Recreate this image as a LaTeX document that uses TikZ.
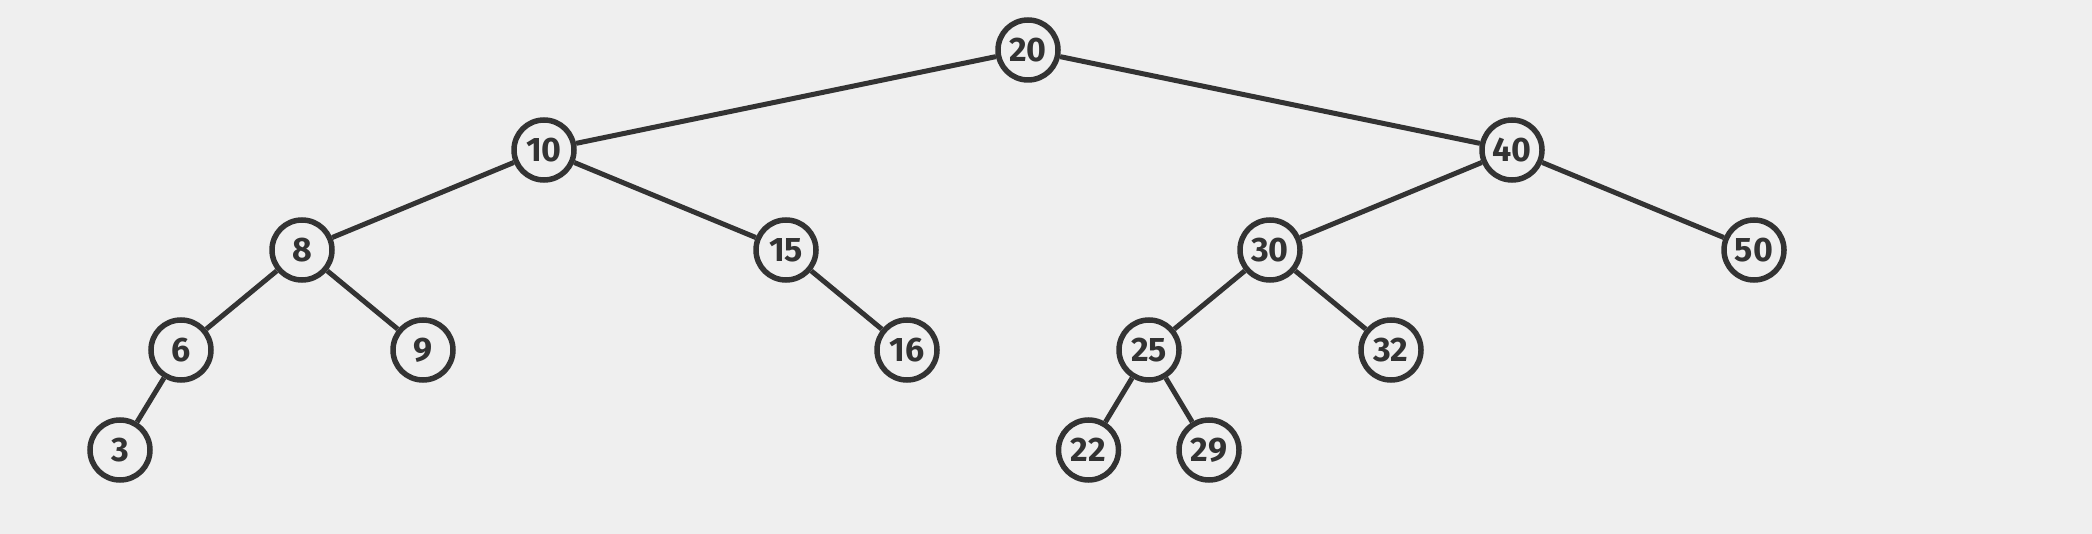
\documentclass[tikz,border=0pt]{standalone}
\usepackage{fontspec}
\setmainfont{Fira Sans}
\definecolor{bg}{HTML}{EFEFEF}
\definecolor{ink}{HTML}{333333}
\begin{document}
\begin{tikzpicture}[x=1pt,y=-1pt,
  tnode/.style={circle,draw=ink,line width=5.5pt,fill=bg,minimum size=60pt,inner sep=0pt,text=ink,font=\fontsize{34}{34}\selectfont\bfseries},
  edge/.style={draw=ink,line width=5pt}]
\fill[bg] (0,0) rectangle (2092,534);
\useasboundingbox (0,0) rectangle (2092,534);
\node[tnode] (n20) at (1028,50) {20};
\node[tnode] (n10) at (544,150) {10};
\node[tnode] (n40) at (1512,150) {40};
\node[tnode] (n8) at (302,250) {8};
\node[tnode] (n15) at (786,250) {15};
\node[tnode] (n30) at (1270,250) {30};
\node[tnode] (n50) at (1754,250) {50};
\node[tnode] (n6) at (181,350) {6};
\node[tnode] (n9) at (423,350) {9};
\node[tnode] (n16) at (907,350) {16};
\node[tnode] (n25) at (1149,350) {25};
\node[tnode] (n32) at (1391,350) {32};
\node[tnode] (n3) at (120,450) {3};
\node[tnode] (n22) at (1088.5,450) {22};
\node[tnode] (n29) at (1209,450) {29};
\path[edge] (n20) -- (n10);
\path[edge] (n20) -- (n40);
\path[edge] (n10) -- (n8);
\path[edge] (n10) -- (n15);
\path[edge] (n40) -- (n30);
\path[edge] (n40) -- (n50);
\path[edge] (n8) -- (n6);
\path[edge] (n8) -- (n9);
\path[edge] (n15) -- (n16);
\path[edge] (n30) -- (n25);
\path[edge] (n30) -- (n32);
\path[edge] (n6) -- (n3);
\path[edge] (n25) -- (n22);
\path[edge] (n25) -- (n29);
\end{tikzpicture}
\end{document}
